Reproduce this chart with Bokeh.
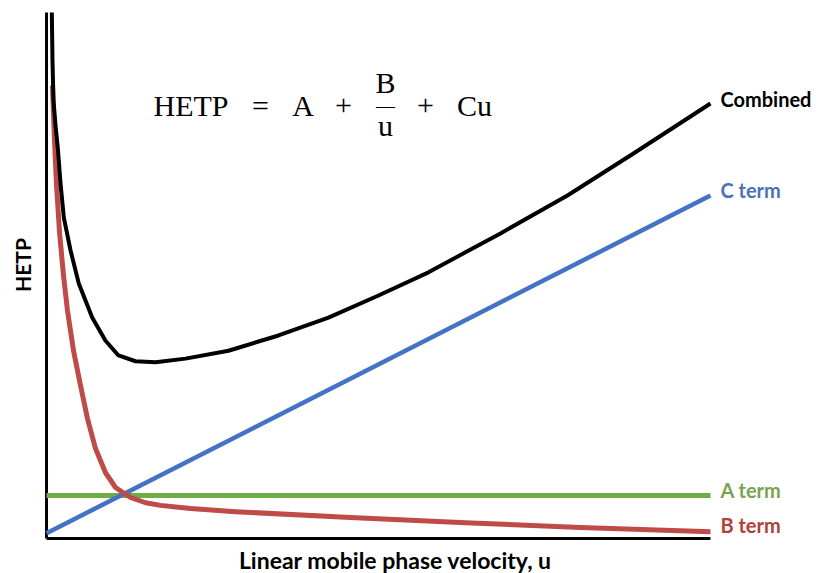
import math
from bokeh.plotting import figure
from bokeh.models import Label, Range1d
from bokeh.embed import file_html
from bokeh.resources import INLINE

# Linear mobile phase velocity u (arbitrary units) and HETP (arbitrary units)
U_MAX = 10.0
H_MAX = 10.0

a_u = [0.0, 10.0]
a_h = [0.82, 0.82]

c_u = [0.0, 10.0]
c_h = [0.10, 6.52]

b_u = [0.090, 0.120, 0.151, 0.196, 0.256, 0.316, 0.407, 0.512, 0.617, 0.738,
       0.889, 1.039, 1.265, 1.491, 1.717, 2.169, 2.846, 4.578, 6.310, 8.042, 10.0]
b_h = [8.61, 7.57, 6.71, 5.82, 5.00, 4.33, 3.57, 2.91, 2.28, 1.71,
       1.25, 0.97, 0.78, 0.68, 0.63, 0.57, 0.51, 0.40, 0.30, 0.21, 0.13]

comb_u = [0.080, 0.090, 0.105, 0.136, 0.173, 0.211, 0.261, 0.361, 0.486, 0.688,
          0.889, 1.084, 1.340, 1.642, 2.093, 2.741, 3.494, 4.247, 5.000, 5.753,
          6.310, 6.837, 7.846, 8.840, 10.0]
comb_h = [10.00, 9.09, 8.33, 7.85, 7.38, 6.75, 6.10, 5.48, 4.85, 4.20,
          3.76, 3.48, 3.37, 3.35, 3.42, 3.57, 3.86, 4.20, 4.62, 5.06,
          5.44, 5.80, 6.52, 7.32, 8.27]

series_labels = ["Combined", "C term", "A term", "B term"]
x_title = "Linear mobile phase velocity, u"
y_title = "HETP"

BLACK = "#000000"
BLUE = "#4472C4"
GREEN = "#70AD47"
RED = "#BE4B48"

p = figure(width=819, height=573,
           x_range=Range1d(-0.693, 11.642), y_range=Range1d(-0.665, 10.228),
           output_backend="svg", toolbar_location=None, min_border=0)
p.grid.visible = False
p.axis.visible = False
p.outline_line_color = None
p.background_fill_color = "white"
p.border_fill_color = "white"

# axis lines
p.segment(x0=[0, 0], y0=[0, 0], x1=[U_MAX, 0], y1=[0, H_MAX],
          line_color="black", line_width=3)

p.line(a_u, a_h, line_color=GREEN, line_width=5)
p.line(c_u, c_h, line_color=BLUE, line_width=4.5)
p.line(b_u, b_h, line_color=RED, line_width=5, line_join="round")
p.line(comb_u, comb_h, line_color=BLACK, line_width=4, line_join="round")

LF = "Lato"
lab_specs = [
    (series_labels[0], 8.36, "#000000"),
    (series_labels[1], 6.63, "#4A72B8"),
    (series_labels[2], 0.93, "#77A44E"),
    (series_labels[3], 0.25, "#B2403D"),
]
for txt, yv, col in lab_specs:
    p.add_layout(Label(x=10.15, y=yv, text=txt, text_font=LF, text_font_style="bold",
                       text_font_size="20px", text_color=col, text_align="left",
                       text_baseline="alphabetic"))

# axis titles
p.add_layout(Label(x=-0.36, y=5.20, text=y_title, text_font=LF, text_font_style="bold",
                   text_font_size="21px", angle=math.pi / 2, text_align="center",
                   text_baseline="middle", text_color="black"))
p.add_layout(Label(x=5.256, y=-0.40, text=x_title, text_font=LF,
                   text_font_style="bold", text_font_size="23px", text_align="center",
                   text_baseline="alphabetic", text_color="black"))

# equation
EF = "Liberation Serif"
ES = "30px"
eq = [
    ("HETP", 1.611, 8.24, "left"),
    ("=", 3.223, 8.24, "center"),
    ("A", 3.863, 8.24, "center"),
    ("+", 4.473, 8.24, "center"),
    ("B", 5.105, 8.66, "center"),
    ("u", 5.105, 7.86, "center"),
    ("+", 5.708, 8.24, "center"),
    ("Cu", 6.446, 8.24, "center"),
]
for txt, xv, yv, al in eq:
    p.add_layout(Label(x=xv, y=yv, text=txt, text_font=EF, text_font_size=ES,
                       text_align=al, text_baseline="alphabetic", text_color="black"))
p.add_layout(Label(x=5.105, y=8.23, text="\u2014", text_font=EF, text_font_size="19px",
                   text_align="center", text_baseline="middle", text_color="black"))

open("out.html", "w").write(file_html(p, INLINE))
